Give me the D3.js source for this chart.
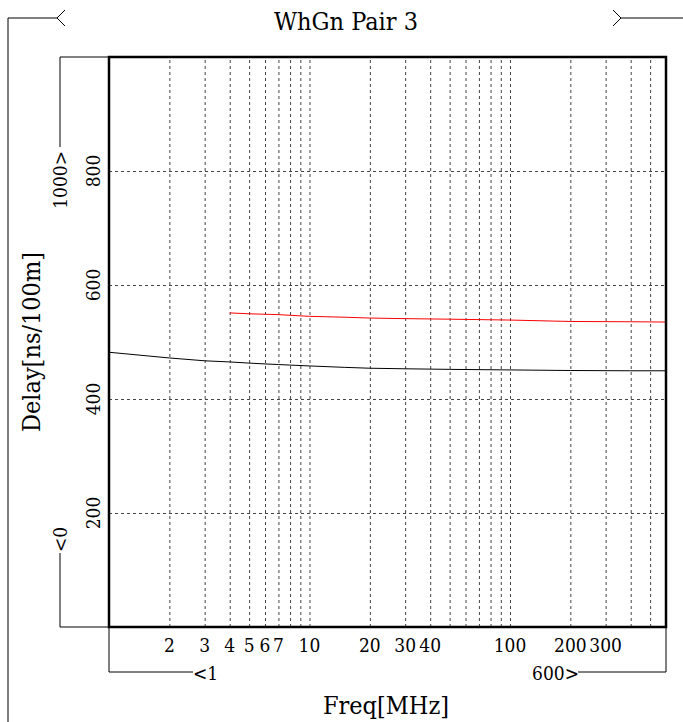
<!DOCTYPE html>
<html>
<head>
<meta charset="utf-8">
<script src="https://cdn.jsdelivr.net/npm/d3@7"></script>
<style>
  body { margin: 0; background: #fff; }
</style>
</head>
<body>
<div id="graph"></div>
<script>
// Data
const freqBlack  = [1, 2, 3, 4, 5, 6, 7, 8, 10, 15, 20, 30, 50, 100, 200, 400, 600];
const delayBlack = [482, 472, 467, 465, 463, 461.5, 460.5, 459.5, 458, 455.5, 454, 453, 452, 451, 450, 449.5, 449.5];
const freqRed    = [4, 5, 7, 10, 15, 20, 30, 50, 100, 200, 400, 600];
const delayRed   = [551, 549.5, 548, 545, 543.5, 542, 541, 540, 538.5, 536, 535.5, 535];
const xTickValues = [2, 3, 4, 5, 6, 7, 10, 20, 30, 40, 100, 200, 300];
const xGridValues = [2, 3, 4, 5, 6, 7, 8, 9, 10, 20, 30, 40, 50, 60, 70, 80, 90, 100, 200, 300, 400, 500];
const yTickValues = [200, 400, 600, 800];
const xDomain = [1, 600];
const yDomain = [0, 1000];

function drawChart() {
    const width = 683, height = 722;
    const plot = {left: 109, right: 666, top: 57, bottom: 627};

    const svg = d3.select("#graph").append("svg")
        .attr("width", width)
        .attr("height", height)
        .attr("font-family", "'DejaVu Serif Condensed', 'DejaVu Serif', 'Liberation Serif', serif");

    const x = d3.scaleLog().domain(xDomain).range([plot.left, plot.right]);
    const y = d3.scaleLinear().domain(yDomain).range([plot.bottom, plot.top]);

    // Grid
    svg.append("g")
        .attr("transform", `translate(0,${plot.bottom})`)
        .call(d3.axisBottom(x).tickValues(xGridValues).tickSize(-(plot.bottom - plot.top)).tickFormat(""))
        .call(g => g.select(".domain").remove())
        .selectAll("line")
        .attr("stroke", "#444")
        .attr("stroke-dasharray", "3,3");

    svg.append("g")
        .attr("transform", `translate(${plot.left},0)`)
        .call(d3.axisLeft(y).tickValues(yTickValues).tickSize(-(plot.right - plot.left)).tickFormat(""))
        .call(g => g.select(".domain").remove())
        .selectAll("line")
        .attr("stroke", "#444")
        .attr("stroke-dasharray", "3,3");

    // Curves
    const line = d3.line().x(d => x(d[0])).y(d => y(d[1]));
    svg.append("path")
        .datum(d3.zip(freqBlack, delayBlack))
        .attr("fill", "none").attr("stroke", "#000").attr("stroke-width", 1)
        .attr("d", line);
    svg.append("path")
        .datum(d3.zip(freqRed, delayRed))
        .attr("fill", "none").attr("stroke", "#ff0000").attr("stroke-width", 1)
        .attr("d", line);

    // Frame
    svg.append("rect")
        .attr("x", plot.left).attr("y", plot.top)
        .attr("width", plot.right - plot.left).attr("height", plot.bottom - plot.top)
        .attr("fill", "none").attr("stroke", "#000").attr("stroke-width", 2.5);

    // X tick labels
    svg.append("g").selectAll("text")
        .data(xTickValues)
        .join("text")
        .attr("x", d => x(d))
        .attr("y", 652)
        .attr("text-anchor", "middle")
        .attr("font-size", 19)
        .text(d => d);

    // Y tick labels (rotated)
    svg.append("g").selectAll("text")
        .data(yTickValues)
        .join("text")
        .attr("transform", d => `translate(100,${y(d)}) rotate(-90)`)
        .attr("text-anchor", "middle")
        .attr("font-size", 19)
        .text(d => d);

    // Brackets and range markers
    function path(d) {
        svg.append("path").attr("d", d)
            .attr("fill", "none").attr("stroke", "#000").attr("stroke-width", 1);
    }
    path("M8,722V18H57");
    path("M65,10L57,18L65,26");
    path("M620,18H683");
    path("M613,10L621,18L613,26");
    path(`M${plot.left},${plot.top}H60V147`);
    path(`M${plot.left},${plot.bottom}H60V553`);
    path(`M${plot.left},${plot.bottom}V672H193`);
    path(`M${plot.right},${plot.bottom}V672H578`);

    svg.append("text")
        .attr("transform", "translate(67,151) rotate(-90)")
        .attr("text-anchor", "end").attr("font-size", 19)
        .text(`${yDomain[1]}>`);
    svg.append("text")
        .attr("transform", "translate(67,552) rotate(-90)")
        .attr("text-anchor", "start").attr("font-size", 19)
        .text(`<${yDomain[0]}`);
    svg.append("text")
        .attr("x", 193).attr("y", 680)
        .attr("font-size", 19)
        .text(`<${xDomain[0]}`);
    svg.append("text")
        .attr("x", 579).attr("y", 680)
        .attr("text-anchor", "end").attr("font-size", 19)
        .text(`${xDomain[1]}>`);

    // Titles
    svg.append("text")
        .attr("x", 346).attr("y", 30)
        .attr("text-anchor", "middle").attr("font-size", 25)
        .text("WhGn Pair 3");
    svg.append("text")
        .attr("x", 386).attr("y", 714)
        .attr("text-anchor", "middle").attr("font-size", 25)
        .text("Freq[MHz]");
    svg.append("text")
        .attr("transform", "translate(40,342) rotate(-90)")
        .attr("text-anchor", "middle").attr("font-size", 25)
        .text("Delay[ns/100m]");
}

drawChart();
</script>
</body>
</html>
